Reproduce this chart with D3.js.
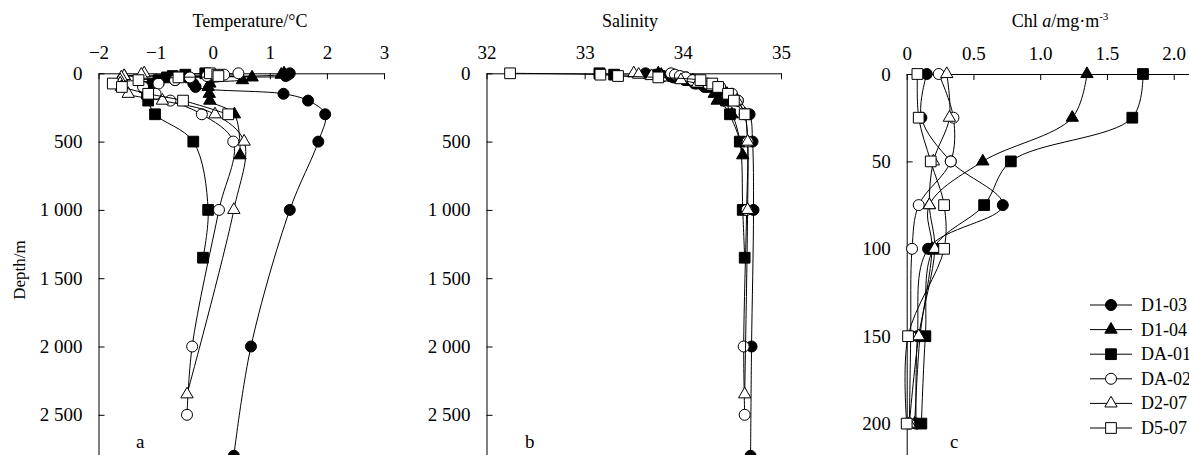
<!DOCTYPE html>
<html>
<head>
<meta charset="utf-8">
<script src="https://cdn.jsdelivr.net/npm/d3@7"></script>
<style>
  body { margin: 0; background: #fff; }
  text { font-family: "Liberation Serif", "Times New Roman", serif; fill: #000; }
</style>
</head>
<body>
<div id="chart"></div>
<script>
// stations, in legend order
const stations = ["D1-03", "D1-04", "DA-01", "DA-02", "D2-07", "D5-07"];
const symbols = ["circle", "triangle", "square", "circle", "triangle", "square"];
const filled = [true, true, true, false, false, false];

// panel a / b: depth (m), temperature (°C), salinity
const depthD103 = [0, 10, 20, 30, 50, 75, 100, 150, 200, 300, 500, 1000, 2000, 2800];
const tempD103 = [1.35, 1.32, 1.28, -0.45, -0.66, -0.34, -0.3, 1.24, 1.67, 1.97, 1.85, 1.35, 0.67, 0.37];
const salD103 = [33.62, 33.72, 33.8, 33.9, 34.02, 34.12, 34.22, 34.42, 34.56, 34.68, 34.71, 34.72, 34.7, 34.69];

const depthD104 = [0, 10, 20, 30, 50, 75, 100, 150, 200, 300, 600];
const tempD104 = [1.25, 1.2, -1.55, 0.69, 0.52, -0.05, -0.08, -0.06, -0.05, 0.38, 0.48];
const salD104 = [33.75, 33.78, 33.85, 33.95, 34.1, 34.2, 34.28, 34.32, 34.35, 34.5, 34.61];

const depthDA01 = [0, 10, 20, 30, 50, 75, 100, 150, 200, 300, 500, 1000, 1350];
const tempDA01 = [-0.13, -0.48, -0.7, -0.8, -0.95, -1.05, -1.19, -1.15, -1.13, -1.01, -0.34, -0.08, -0.17];
const salDA01 = [33.15, 33.3, 33.9, 34.0, 34.08, 34.18, 34.28, 34.38, 34.44, 34.48, 34.58, 34.61, 34.63];

const depthDA02 = [0, 10, 20, 30, 50, 75, 100, 150, 200, 300, 500, 1000, 2000, 2500];
const tempDA02 = [0.45, 0.2, -0.1, -0.4, -0.66, -0.95, -1.22, -1.0, -0.74, -0.19, 0.36, 0.11, -0.36, -0.45];
const salDA02 = [33.88, 33.92, 33.97, 34.03, 34.1, 34.25, 34.38, 34.5, 34.56, 34.63, 34.66, 34.65, 34.62, 34.63];

const depthD207 = [0, 10, 20, 30, 50, 75, 100, 150, 200, 300, 500, 1000, 2350];
const tempD207 = [-1.2, -1.25, -1.55, -1.6, -1.62, -1.62, -1.6, -1.48, -0.88, 0.04, 0.55, 0.37, -0.45];
const salD207 = [33.5, 33.55, 33.68, 33.78, 33.98, 34.15, 34.3, 34.45, 34.55, 34.63, 34.66, 34.66, 34.63];

const depthD507 = [0, 10, 20, 30, 50, 75, 100, 150, 200, 300];
const tempD507 = [-0.05, 0.08, 0.1, -0.6, -1.3, -1.75, -1.59, -1.13, -0.52, 0.27];
const salD507 = [32.24, 33.16, 33.34, 33.75, 34.18, 34.3, 34.36, 34.46, 34.52, 34.63];

// panel c: Chl a (mg·m-3) at fixed depths
const chlDepths = [0, 25, 50, 75, 100, 150, 200];
const chlD103 = [0.15, 0.11, 0.33, 0.72, 0.16, 0.08, 0.07];
const chlD104 = [1.35, 1.24, 0.57, 0.17, 0.19, 0.1, 0.06];
const chlDA01 = [1.77, 1.69, 0.78, 0.58, 0.2, 0.14, 0.11];
const chlDA02 = [0.24, 0.35, 0.33, 0.09, 0.04, 0.03, 0.02];
const chlD207 = [0.3, 0.32, 0.2, 0.17, 0.21, 0.09, 0.02];
const chlD507 = [0.08, 0.09, 0.18, 0.28, 0.28, 0.01, 0.0];

// tick labels
const tempTicks = [-2, -1, 0, 1, 2, 3];
const salTicks = [32, 33, 34, 35];
const chlTicks = [0, 0.5, 1.0, 1.5, 2.0];
const depthTicks = [0, 500, 1000, 1500, 2000, 2500];
const chlDepthTicks = [0, 50, 100, 150, 200];

const depths = [depthD103, depthD104, depthDA01, depthDA02, depthD207, depthD507];
const temps = [tempD103, tempD104, tempDA01, tempDA02, tempD207, tempD507];
const sals = [salD103, salD104, salDA01, salDA02, salD207, salD507];
const chls = [chlD103, chlD104, chlDA01, chlDA02, chlD207, chlD507];

const width = 1189, height = 455;
const svg = d3.select("#chart").append("svg")
    .attr("width", width)
    .attr("height", height);

const fmtDepth = d3.formatLocale({decimal: ".", thousands: " ", grouping: [3], currency: ["", ""]}).format(",");

const symbolType = {circle: d3.symbolCircle, triangle: d3.symbolTriangle, square: d3.symbolSquare};
const symbolSize = {circle: 95, triangle: 66, square: 115};

function drawPanel(p) {
    const g = svg.append("g");

    g.append("g")
        .attr("transform", "translate(0," + p.y.range()[0] + ")")
        .call(d3.axisTop(p.x).tickValues(p.xTicks).tickFormat(p.xFormat)
            .tickSizeInner(-6).tickSizeOuter(0).tickPadding(14))
        .call(styleAxis);

    g.append("g")
        .attr("transform", "translate(" + p.x.range()[0] + ",0)")
        .call(d3.axisLeft(p.y).tickValues(p.yTicks).tickFormat(fmtDepth)
            .tickSizeInner(-6).tickSizeOuter(0).tickPadding(16))
        .call(styleAxis);

    const line = d3.line()
        .x(d => p.x(d[0]))
        .y(d => p.y(d[1]))
        .curve(d3.curveCatmullRom.alpha(0.5));

    p.series.forEach((s, i) => {
        g.append("path")
            .datum(s)
            .attr("fill", "none")
            .attr("stroke", "#000")
            .attr("stroke-width", 1)
            .attr("d", line);
        g.selectAll(null)
            .data(s)
            .enter()
            .append("path")
            .attr("transform", d => "translate(" + p.x(d[0]) + "," + p.y(d[1]) + ")")
            .attr("d", d3.symbol().type(symbolType[symbols[i]]).size(symbolSize[symbols[i]]))
            .attr("fill", filled[i] ? "#000" : "#fff")
            .attr("stroke", "#000")
            .attr("stroke-width", 1);
    });

    const title = g.append("text")
        .attr("x", p.titleX)
        .attr("y", 27)
        .attr("text-anchor", "middle")
        .attr("font-size", 18);
    p.title(title);

    g.append("text")
        .attr("x", p.letterX)
        .attr("y", 448)
        .attr("font-size", 19)
        .text(p.letter);
}

function styleAxis(sel) {
    sel.selectAll("text").attr("font-size", 19).attr("fill", "#000")
        .attr("font-family", "'Liberation Serif', 'Times New Roman', serif");
    sel.selectAll("line").attr("stroke", "#000");
    sel.select(".domain").attr("stroke", "#000");
}

const yDeep = d3.scaleLinear().domain([0, 3000]).range([73.3, 483.1]);
const yChl = d3.scaleLinear().domain([0, 250]).range([74, 511]);

const xTemp = d3.scaleLinear().domain([-2, 3]).range([98.5, 384]);
const xSal = d3.scaleLinear().domain([32, 35]).range([486.5, 781]);
const xChl = d3.scaleLinear().domain([0, 2.3]).range([906.7, 906.7 + 2.3 * 133.5]);

drawPanel({
    x: xTemp,
    y: yDeep,
    xTicks: tempTicks,
    yTicks: depthTicks,
    xFormat: d3.format("d"),
    series: stations.map((s, i) => depths[i].map((d, j) => [temps[i][j], d])),
    title: t => t.text("Temperature/°C"),
    titleX: 250,
    letter: "a",
    letterX: 136
});

drawPanel({
    x: xSal,
    y: yDeep,
    xTicks: salTicks,
    yTicks: depthTicks,
    xFormat: d3.format("d"),
    series: stations.map((s, i) => sals[i].map((v, j) => [v, depths[i][j]])),
    title: t => t.text("Salinity"),
    titleX: 630,
    letter: "b",
    letterX: 525
});

drawPanel({
    x: xChl,
    y: yChl,
    xTicks: chlTicks,
    yTicks: chlDepthTicks,
    xFormat: d => d === 0 ? "0" : d3.format(".1f")(d),
    series: stations.map((s, i) => chls[i].map((v, j) => [v, chlDepths[j]])),
    title: t => {
        t.append("tspan").text("Chl ");
        t.append("tspan").attr("font-style", "italic").text("a");
        t.append("tspan").text("/mg·m");
        t.append("tspan").attr("font-size", 11).attr("dy", -7).text("-3");
    },
    titleX: 1060,
    letter: "c",
    letterX: 950
});

// y axis title
svg.append("text")
    .attr("transform", "translate(25,270) rotate(-90)")
    .attr("text-anchor", "middle")
    .attr("font-size", 17)
    .text("Depth/m");

// legend
const legend = svg.append("g").attr("transform", "translate(1090,305)");
stations.forEach((s, i) => {
    const row = legend.append("g").attr("transform", "translate(0," + i * 24.6 + ")");
    row.append("line").attr("x1", 0).attr("x2", 42).attr("stroke", "#000");
    row.append("path")
        .attr("transform", "translate(21,0)")
        .attr("d", d3.symbol().type(symbolType[symbols[i]]).size(symbolSize[symbols[i]]))
        .attr("fill", filled[i] ? "#000" : "#fff")
        .attr("stroke", "#000");
    row.append("text")
        .attr("x", 51)
        .attr("y", 6)
        .attr("font-size", 18)
        .text(s);
});
</script>
</body>
</html>
